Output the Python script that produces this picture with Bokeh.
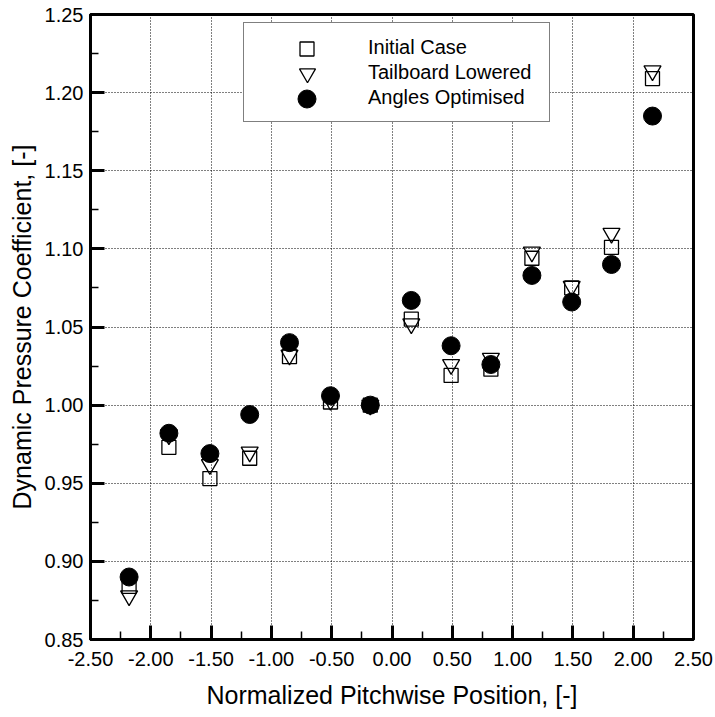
from bokeh.plotting import figure
from bokeh.models import FixedTicker, Legend, LegendItem, Range1d, NumeralTickFormatter
from bokeh.embed import file_html
from bokeh.resources import INLINE

# ---- data ----
x_pos = [-2.18, -1.85, -1.51, -1.18, -0.85, -0.51, -0.18, 0.16, 0.49, 0.82, 1.16, 1.49, 1.82, 2.16]
initial_case = [0.884, 0.973, 0.953, 0.966, 1.031, 1.002, 1.000, 1.055, 1.019, 1.023, 1.094, 1.075, 1.101, 1.209]
tailboard_lowered = [0.878, 0.981, 0.962, 0.970, 1.032, 1.003, 1.000, 1.052, 1.026, 1.030, 1.098, 1.076, 1.110, 1.214]
angles_optimised = [0.890, 0.982, 0.969, 0.994, 1.040, 1.006, 1.000, 1.067, 1.038, 1.026, 1.083, 1.066, 1.090, 1.185]

series_labels = ["Initial Case", "Tailboard Lowered", "Angles Optimised"]

x_major = [-2.5, -2.0, -1.5, -1.0, -0.5, 0.0, 0.5, 1.0, 1.5, 2.0, 2.5]
x_minor = [-2.25, -1.75, -1.25, -0.75, -0.25, 0.25, 0.75, 1.25, 1.75, 2.25]
y_major = [0.85, 0.90, 0.95, 1.00, 1.05, 1.10, 1.15, 1.20, 1.25]
y_minor = [0.875, 0.925, 0.975, 1.025, 1.075, 1.125, 1.175, 1.225]

FONT = "Liberation Sans"
FRAME_H = 625

p = figure(width=715, height=717, output_backend="svg", toolbar_location=None,
           x_range=Range1d(-2.5, 2.5), y_range=Range1d(0.85, 1.25),
           min_border_left=90, min_border_right=22, min_border_top=14, min_border_bottom=78)

p.background_fill_color = "white"
p.border_fill_color = "white"
p.outline_line_color = "black"
p.outline_line_width = 3

for ax, maj, mnr in ((p.xaxis[0], x_major, x_minor), (p.yaxis[0], y_major, y_minor)):
    ax.ticker = FixedTicker(ticks=maj, minor_ticks=mnr)
    ax.formatter = NumeralTickFormatter(format="0.00")
    ax.axis_line_width = 3
    ax.axis_line_color = "black"
    ax.major_tick_in = 14
    ax.major_tick_out = 0
    ax.major_tick_line_width = 3
    ax.minor_tick_in = 8
    ax.minor_tick_out = 0
    ax.minor_tick_line_width = 1.5
    ax.major_label_text_font = FONT
    ax.major_label_text_font_size = "20px"
    ax.major_label_text_color = "black"
    ax.axis_label_text_font = FONT
    ax.axis_label_text_font_size = "25px"
    ax.axis_label_text_font_style = "normal"
    ax.axis_label_text_color = "black"

p.xaxis.axis_label = "Normalized Pitchwise Position, [-]"
p.yaxis.axis_label = "Dynamic Pressure Coefficient, [-]"
p.xaxis.major_label_standoff = 12
p.xaxis.axis_label_standoff = 12
p.yaxis.major_label_standoff = 7
p.yaxis.axis_label_standoff = 6

for g in (p.xgrid[0], p.ygrid[0]):
    g.grid_line_color = "black"
    g.grid_line_dash = "1 2"
    g.grid_line_width = 1
p.xgrid.ticker = FixedTicker(ticks=x_major)
p.ygrid.ticker = FixedTicker(ticks=y_major)

r_sq = p.scatter(x_pos, initial_case, marker="square", size=14, fill_color=None,
                 line_color="black", line_width=1.3)
r_tri = p.scatter(x_pos, tailboard_lowered, marker="inverted_triangle", size=17, fill_color=None,
                  line_color="black", line_width=1.3)
r_cir = p.scatter(x_pos, angles_optimised, marker="circle", size=18, fill_color="black",
                  line_color="black")

# ---- legend: a framed box holding the labels ----
BOX_LEFT, BOX_TOP, PAD, ROW, SPACING = 153, 10, 12, 24, 1
box_h = 2 * PAD + 3 * ROW + 2 * SPACING
box = Legend(items=[LegendItem(label=s, renderers=[]) for s in series_labels],
             location=(BOX_LEFT, FRAME_H - BOX_TOP - box_h))
box.glyph_width = 103
box.glyph_height = ROW
box.label_height = ROW
box.spacing = SPACING
box.padding = PAD
box.margin = 0
box.label_standoff = 9
box.label_width = 169
box.label_text_font = FONT
box.label_text_font_size = "20px"
box.label_text_color = "black"
box.label_text_baseline = "middle"
box.border_line_color = "black"
box.border_line_width = 1.5
box.background_fill_color = "white"
box.background_fill_alpha = 1
p.add_layout(box)

# ---- legend: one marker per row, each drawn at its own size ----
marker_center_x = BOX_LEFT + PAD + 103 / 2
for i, (r, gsize) in enumerate(((r_sq, 35), (r_tri, 40), (r_cir, 45))):
    row_cy = BOX_TOP + PAD + ROW / 2 + i * (ROW + SPACING)
    lg = Legend(items=[LegendItem(label="", renderers=[r])],
                location=(marker_center_x - gsize / 2, FRAME_H - row_cy - gsize / 2))
    lg.glyph_width = gsize
    lg.glyph_height = gsize
    lg.label_width = 0
    lg.label_height = 0
    lg.label_standoff = 0
    lg.label_text_font_size = "1px"
    lg.padding = 0
    lg.margin = 0
    lg.spacing = 0
    lg.border_line_color = None
    lg.background_fill_color = None
    lg.background_fill_alpha = 0
    p.add_layout(lg)

open("out.html", "w").write(file_html(p, INLINE))
